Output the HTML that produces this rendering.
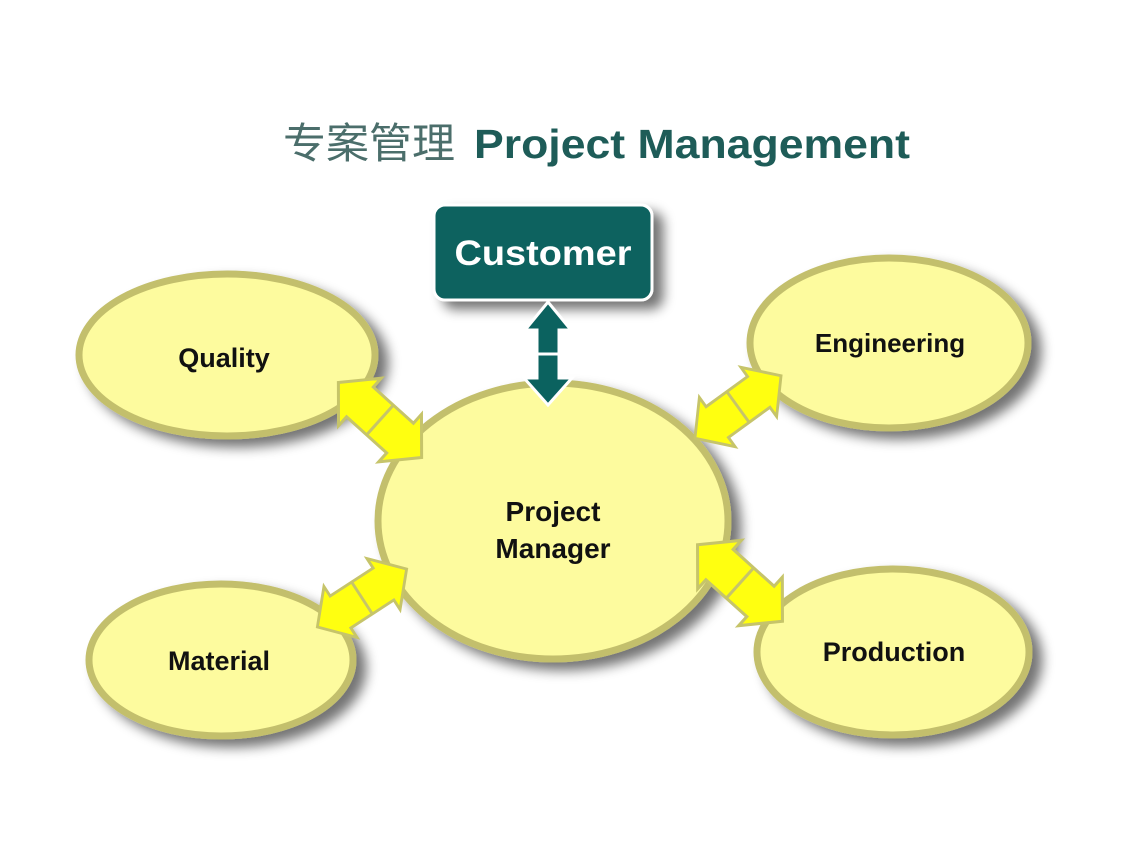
<!DOCTYPE html>
<html><head><meta charset="utf-8"><style>
html,body{margin:0;padding:0;background:#fff;}
svg{display:block;}
</style></head><body>
<svg width="1138" height="854" viewBox="0 0 1138 854" xmlns="http://www.w3.org/2000/svg">
<defs>
<filter id="sh" x="-20%" y="-20%" width="150%" height="150%">
<feGaussianBlur in="SourceAlpha" stdDeviation="6"/>
<feOffset dx="10" dy="8" result="b"/>
<feComponentTransfer><feFuncA type="linear" slope="0.55"/></feComponentTransfer>
<feMerge><feMergeNode/><feMergeNode in="SourceGraphic"/></feMerge>
</filter>
<g id="dar">
<polygon points="-56,0 -27,-32 -27,-20 27,-20 27,-32 56,0 27,32 27,20 -27,20 -27,32" fill="#ffff10" stroke="#c6c46a" stroke-width="3" stroke-linejoin="miter"/>
<line x1="0" y1="-20" x2="0" y2="20" stroke="#c6c46a" stroke-width="3"/>
</g>
</defs>
<text x="283" y="158" font-family="'Liberation Sans','Noto Sans CJK SC',sans-serif" font-size="42" fill="#4b6e6b" textLength="172" lengthAdjust="spacingAndGlyphs">专案管理</text>
<text x="474" y="158" font-family="'Liberation Sans',sans-serif" font-weight="bold" font-size="41" fill="#1e5c58" textLength="436" lengthAdjust="spacingAndGlyphs">Project Management</text>

<g fill="#fdfb9e" stroke="#c3bf6c" stroke-width="7" filter="url(#sh)">
<ellipse cx="227" cy="355" rx="148" ry="81"/>
<ellipse cx="889" cy="343" rx="139" ry="85"/>
<ellipse cx="221" cy="660" rx="132" ry="76"/>
<ellipse cx="893" cy="652" rx="136" ry="83"/>
<ellipse cx="553" cy="521" rx="175" ry="138"/>
</g>

<rect x="434" y="205" width="218" height="95" rx="11" fill="#0b625f" stroke="#fff" stroke-width="3" filter="url(#sh)"/>
<text x="543" y="265" text-anchor="middle" font-family="'Liberation Sans',sans-serif" font-weight="bold" font-size="35" fill="#fff" textLength="177" lengthAdjust="spacingAndGlyphs">Customer</text>

<polygon points="548,302 571,330 559,330 559,378 572,378 548,405 524,378 537,378 537,330 525,330" fill="#0b625f" stroke="#fff" stroke-width="3"/>
<line x1="537" y1="354" x2="559" y2="354" stroke="#fff" stroke-width="3"/>

<use href="#dar" transform="translate(380,420) rotate(42)"/>
<use href="#dar" transform="translate(738,407) rotate(-36) scale(0.95)"/>
<use href="#dar" transform="translate(362,598) rotate(-33) scale(0.95)"/>
<use href="#dar" transform="translate(740,583) rotate(42) scale(1.02)"/>

<g font-family="'Liberation Sans',sans-serif" font-weight="bold" fill="#111" text-anchor="middle">
<text x="224" y="367" font-size="27">Quality</text>
<text x="890" y="352" font-size="26">Engineering</text>
<text x="219" y="670" font-size="27">Material</text>
<text x="894" y="661" font-size="27">Production</text>
<text x="553" y="521" font-size="28">Project</text>
<text x="553" y="558" font-size="28">Manager</text>
</g>
</svg>
</body></html>
